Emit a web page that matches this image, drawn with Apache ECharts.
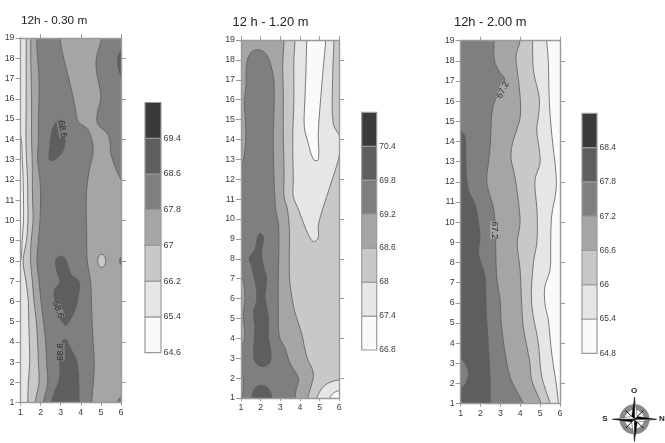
<!DOCTYPE html>
<html><head><meta charset="utf-8">
<style>html,body{margin:0;padding:0;background:#fff}#c{width:665px;height:443px;filter:blur(0.35px)}</style>
<script src="https://cdn.jsdelivr.net/npm/echarts@6/dist/echarts.min.js"></script>
</head><body><div id="c"></div>
<script>
// Shade steps, lowest band (0) to highest band (6)
const ramp=['#fafafa','#e6e6e6','#c8c8c8','#a5a5a5','#7f7f7f','#5e5e5e','#3a3a3a'];
const xTicks=[1,2,3,4,5,6];
const yTicks=[1,2,3,4,5,6,7,8,9,10,11,12,13,14,15,16,17,18,19];
const legend1=['64.6','65.4','66.2','67','67.8','68.6','69.4',''];
const legend2=['66.8','67.4','68','68.6','69.2','69.8','70.4',''];
const legend3=['64.8','65.4','66','66.6','67.2','67.8','68.4',''];

// ---- 12h - 0.30 m : isolines as [x,y]
const a1W=[[0.7,14.6],[1,14.2],[1.09,13],[1.13,12],[1.15,11],[1.15,10],[1.08,9],[1,8],[0.7,7.6]];
const a1A=[[1.28,19],[1.28,16],[1.27,14],[1.3,13],[1.35,12],[1.36,11],[1.37,10],[1.3,9],[1.13,8],[1.27,7],[1.39,6],[1.41,5],[1.44,4],[1.46,3],[1.39,2],[1.36,1]];
const a1B=[[1.51,19],[1.51,18],[1.53,17],[1.55,16],[1.55,15],[1.55,14],[1.58,13],[1.59,12],[1.6,11],[1.63,10],[1.53,9],[1.5,8],[1.59,7],[1.67,6],[1.79,5],[1.85,4],[1.89,3],[1.92,2],[1.72,1]];
const a1C=[[1.8,19],[1.85,18],[1.92,17],[1.92,16],[1.89,15],[1.89,14],[1.85,13],[1.97,12],[2,11],[1.97,10],[1.89,9],[1.82,8],[1.92,7],[2.02,6],[2.14,5],[2.25,4],[2.3,3],[2.35,2],[2.14,1]];
const a1F=[[2.96,19],[3.13,18.08],[3.46,16.76],[3.71,15.61],[3.87,14.87],[4.37,14.46],[4.62,13.47],[4.42,12.49],[4.29,11.5],[4.27,10.5],[4.29,9.52],[4.32,8.04],[4.49,6.97],[4.54,5.57],[4.62,3.93],[4.67,2.94],[4.62,1.95],[4.54,1]];
const a1E=[[5.04,19.6],[5.04,19],[4.79,18.08],[4.77,17.42],[5,16.1],[4.82,15.28],[4.84,14.76],[5.37,14.21],[5.53,13.14],[6,12],[6.5,11.2],[8,11],[8,19.6]];
const a1I1=[[2.71,14.76],[2.96,14.95],[3.13,14.38],[3.21,13.8],[3.04,13.31],[2.63,12.95],[2.43,13.01],[2.46,13.64],[2.54,14.3]];
const a1I2=[[2.76,8.04],[2.96,8.24],[3.21,8.12],[3.38,7.71],[3.54,7.3],[3.92,6.97],[3.87,6.23],[3.71,5.57],[3.29,4.83],[3.13,4.91],[2.88,5.41],[2.71,6.07],[2.68,6.56],[2.96,6.97],[2.79,7.55]];
const a1I3=[[2.45,0.6],[2.52,1],[2.72,1.6],[2.93,2.15],[2.96,3.1],[2.93,3.5],[3.09,4],[3.13,4.1],[3.29,4.1],[3.38,3.9],[3.82,2.95],[3.92,1],[3.95,0.6]];
const a1I4=[[4.84,8],[4.9,8.25],[5.04,8.32],[5.18,8.25],[5.24,8],[5.18,7.75],[5.04,7.68],[4.9,7.75]];
const a1I5=[[6.3,18.8],[6,18.4],[5.83,17.9],[6,17.1],[6.3,16.8]];
const a1I6=[[6.2,8.3],[5.97,8.15],[5.97,7.85],[6.2,7.7]];
const a1I7=[[5.6,0.7],[5.78,1],[6,1.3],[6.3,1.5],[6.3,0.7]];
const labels1=[[3.08,14.5,-80,'68.6',4],[2.87,5.6,-70,'68.6',4],[2.98,3.5,90,'68.6',4]];

// ---- 12 h - 1.20 m
const b1L=[[3.19,19],[3.12,17.66],[3.15,16.49],[3.15,14.31],[3.19,12.3],[3.19,11.13],[3.36,10.49],[3.46,9.48],[3.46,8.47],[3.46,7.13],[3.58,6.12],[3.75,5.28],[4.08,4.27],[4.34,3.09],[4.68,2.25],[4.56,1.57],[4.39,1]];
const b1Big=[[0.7,11.9],[1,12.47],[1.2,13.47],[1.25,14.31],[1.2,15.31],[1.17,15.98],[1.25,16.65],[1.29,17.83],[1.54,18.41],[1.97,18.5],[2.31,18.25],[2.56,17.58],[2.68,16.82],[2.68,15.48],[2.64,13.97],[2.68,11.96],[2.73,10.96],[2.76,10.49],[2.9,9.82],[2.93,8.81],[2.9,7.13],[2.9,5.44],[2.95,4.1],[3.24,3.51],[3.49,2.75],[3.92,1.99],[3.8,1.4],[3.75,1],[3.72,0.6],[-1,0.6],[-1,11]];
const b1Side1=[[0.7,7.3],[1,7.04],[1.12,6.88],[1.2,6.03],[1.12,5.11],[1.19,4.1],[1,3.59],[0.7,3.3]];
const b1Side2=[[0.7,2.6],[1,2.36],[1.12,1.91],[1.07,1],[1.05,0.6],[0.7,0.6]];
const b1Dark1=[[1.97,9.28],[2.14,9.06],[2.05,8.31],[2.14,7.63],[2.31,6.96],[2.22,6.12],[2.39,5.11],[2.39,4.1],[2.53,3.26],[2.44,2.75],[2.05,2.58],[1.71,2.84],[1.63,3.26],[1.71,4.6],[1.63,5.28],[1.8,5.95],[1.76,6.62],[1.54,7.63],[1.42,8.05],[1.71,8.47],[1.83,9.06]];
const b1Dark2=[[1.5,0.6],[1.54,1],[1.71,1.49],[2.05,1.64],[2.39,1.49],[2.59,1],[2.65,0.6]];
const b1Light=[[3.75,19.6],[3.75,19],[3.69,18],[3.69,15.98],[3.63,13.97],[3.66,11.96],[3.66,11.13],[3.92,10.49],[4.17,9.82],[4.42,9.23],[4.68,8.86],[4.93,9.06],[4.93,9.65],[5.15,10.49],[5.36,11.13],[5.69,12.13],[5.95,12.97],[6.07,13.64],[6.07,14.06],[5.69,14.81],[5.66,17],[5.73,19],[5.73,19.6]];
const b1White=[[4.34,19.6],[4.34,19],[4.31,17.66],[4.25,15.98],[4.22,14.64],[4.42,13.81],[4.68,13],[4.93,12.97],[4.93,14.31],[5.02,15.65],[5.19,17.66],[5.31,19],[5.31,19.6]];
const b1Arc1=[[4.8,0.6],[4.85,1],[5.19,1.57],[5.61,1.82],[6,1.91],[6.5,2],[6.5,0.6]];
const b1Arc2=[[5.5,0.6],[5.53,1],[5.69,1.24],[6,1.37],[6.5,1.4],[6.5,0.6]];

// ---- 12h - 2.00 m
const c1L0=[[0.7,14.9],[1,14.53],[1.22,14.23],[1.27,12.74],[1.39,11.58],[1.72,10.92],[1.89,10.01],[1.97,9.13],[1.89,8.47],[2.22,7.31],[2.28,5.65],[2.48,2.34],[2.48,1]];
const c1L1=[[2.68,19],[2.69,18.04],[2.9,17.54],[3.23,17.05],[3.06,16.55],[2.73,16.05],[2.56,15.31],[2.53,14.73],[2.48,13.74],[2.39,12.91],[2.31,12.16],[2.39,11.58],[2.64,10.75],[2.73,10.01],[2.76,8.96],[2.81,7.31],[2.98,6.15],[3.06,4.82],[3.48,2.34],[4.15,1]];
const c1L2=[[3.99,19],[3.79,18.29],[3.82,17.71],[3.95,16.72],[4.02,15.56],[3.95,14.98],[3.65,14.07],[3.53,13.24],[3.73,12.25],[3.9,11.09],[3.99,9.96],[3.85,8.96],[3.99,7.64],[4.07,5.98],[4.15,4.82],[4.49,3],[4.57,2.18],[5.04,1]];
const c1L3=[[4.62,19],[4.66,17.54],[4.96,16.14],[4.91,15.23],[4.83,14.56],[4.96,13.57],[4.99,12.91],[4.74,12.08],[4.83,10.75],[4.86,10.01],[4.83,8.96],[4.66,7.97],[4.57,5.98],[4.91,4],[5.08,2.34],[5.5,1]];
const c1L4=[[5.33,19],[5.41,18.04],[5.46,16.05],[5.58,14.4],[5.8,12.41],[5.8,11.58],[5.58,10.3],[5.53,8.96],[5.5,7.64],[5.24,6.81],[5.24,5.98],[5.41,5.16],[5.58,3.5],[5.83,1.84],[5.92,1]];
const c1Side=[[0.7,3.6],[1,3.28],[1.22,3],[1.39,2.51],[1.22,1.93],[1,1.79],[0.7,1.5]];
const labels3=[[3.12,16.55,65,'67.2',3],[2.72,9.6,-90,'67.2',3]];

// Closing helper: area to the left of an isoline running top to bottom
const leftOf=l=>[[l[0][0],19.6],...l,[l[l.length-1][0],0.6],[-1,0.6],[-1,19.6]];

const panels=[
 {base:3,layers:[[a1E,4],[leftOf(a1F),4],[leftOf(a1C),3],[leftOf(a1B),2],[leftOf(a1A),1],[a1W,0],[a1I1,5],[a1I2,5],[a1I3,5],[a1I4,2],[a1I5,5],[a1I6,5],[a1I7,4]],labels:labels1,legend:legend1,legendSize:9,
  title:'12h - 0.30 m',titleX:21,titleY:21,titleSize:11.8,g:[20.5,38,121,402.7],l:[145,102.5,161,352.7],topT:[2,4,6]},
 {base:2,layers:[[leftOf(b1L),3],[b1Big,4],[b1Side1,3],[b1Side2,3],[b1Dark1,5],[b1Dark2,5],[b1Light,1],[b1White,0],[b1Arc1,1],[b1Arc2,0]],labels:[],legend:legend2,legendSize:8.5,
  title:'12 h - 1.20 m',titleX:232.5,titleY:22,titleSize:12.9,g:[241,40,339.3,398],l:[361.7,112.3,376.7,350],topT:[1,2,3,4,5,6]},
 {base:0,layers:[[leftOf(c1L4),1],[leftOf(c1L3),2],[leftOf(c1L2),3],[leftOf(c1L1),4],[[...c1L0,[2.45,0.6],[-1,0.6],[-1,14.9]],5],[c1Side,4]],labels:labels3,legend:legend3,legendSize:8.5,
  title:'12h - 2.00 m',titleX:454,titleY:22,titleSize:12.9,g:[460.7,40.7,560,403.7],l:[582,113.3,597,353.3],topT:[2,4,6]}
];

const W=665,H=443,font='"Liberation Sans",Arial,sans-serif';
const axisCol='#9a9a9a',lineCol='#5c5c5c',txt='#3c3c3c';
const grids=[],xAxes=[],yAxes=[],series=[],titles=[];
panels.forEach(p=>{
  titles.push({text:p.title,left:p.titleX-5,top:p.titleY-5-p.titleSize/2,textStyle:{fontFamily:font,fontWeight:'normal',fontSize:p.titleSize,color:'#222'}});
  const gi=grids.length;
  grids.push({left:p.g[0],top:p.g[1],width:p.g[2]-p.g[0],height:p.g[3]-p.g[1],show:true,backgroundColor:ramp[p.base],borderWidth:0});
  const line={show:true,onZero:false,lineStyle:{color:axisCol,width:1.4}};
  const xi=xAxes.length,yi=yAxes.length;
  xAxes.push({gridIndex:gi,type:'value',min:1,max:6,interval:1,position:'bottom',z:5,axisLine:line,splitLine:{show:false},
    axisTick:{show:true,length:3,lineStyle:{color:axisCol}},axisLabel:{show:true,margin:5,fontSize:8.8,fontFamily:font,color:txt,customValues:xTicks,showMinLabel:true,showMaxLabel:true}});
  xAxes.push({gridIndex:gi,type:'value',min:1,max:6,interval:1,position:'top',z:5,axisLine:line,splitLine:{show:false},
    axisTick:{show:true,length:4,customValues:p.topT,lineStyle:{color:axisCol}},axisLabel:{show:false}});
  yAxes.push({gridIndex:gi,type:'value',min:1,max:19,interval:1,position:'left',z:5,axisLine:line,splitLine:{show:false},
    axisTick:{show:true,length:5,lineStyle:{color:axisCol}},axisLabel:{show:true,margin:6,fontSize:8.8,fontFamily:font,color:txt,customValues:yTicks,showMinLabel:true,showMaxLabel:true}});
  yAxes.push({gridIndex:gi,type:'value',min:1,max:19,interval:1,position:'right',z:5,axisLine:line,splitLine:{show:false},
    axisTick:{show:true,length:5,customValues:[2,4,6,8,10,12,14,16,18],lineStyle:{color:axisCol}},axisLabel:{show:false}});
  series.push({type:'custom',xAxisIndex:xi,yAxisIndex:yi,clip:true,z:2,silent:true,data:p.layers.map((_,i)=>[i]),
    renderItem:(params,api)=>{
      const L=p.layers[params.dataIndex];
      return {type:'polygon',shape:{points:L[0].map(q=>api.coord(q)),smooth:0.35},style:{fill:ramp[L[1]],stroke:lineCol,lineWidth:0.8}};
    }});
  if(p.labels.length) series.push({type:'custom',xAxisIndex:xi,yAxisIndex:yi,clip:false,z:3,silent:true,data:p.labels.map((_,i)=>[i]),
    renderItem:(params,api)=>{
      const t=p.labels[params.dataIndex],c=api.coord([t[0],t[1]]);
      return {type:'text',x:c[0],y:c[1],rotation:t[2]*Math.PI/180,style:{text:t[3],fontSize:9,fontFamily:font,fill:'#2a2a2a',backgroundColor:ramp[t[4]],align:'center',verticalAlign:'middle'}};
    }});
  // colour scale
  const gl=grids.length;
  grids.push({left:p.l[0],top:p.l[1],width:p.l[2]-p.l[0],height:p.l[3]-p.l[1],show:false});
  const xl=xAxes.length,yl=yAxes.length;
  xAxes.push({gridIndex:gl,type:'value',min:0,max:1,show:false});
  yAxes.push({gridIndex:gl,type:'category',boundaryGap:false,position:'right',data:p.legend,
    axisLine:{show:false},axisTick:{show:false},splitLine:{show:false},
    axisLabel:{show:true,interval:0,margin:2.5,fontSize:p.legendSize,fontFamily:font,color:txt}});
  series.push({type:'custom',xAxisIndex:xl,yAxisIndex:yl,clip:false,z:2,silent:true,data:ramp.map((_,i)=>[i]),
    renderItem:(params,api)=>{
      const i=params.dataIndex,a=api.coord([0,i]),b=api.coord([1,i+1]);
      return {type:'rect',shape:{x:a[0],y:b[1],width:b[0]-a[0],height:a[1]-b[1]},style:{fill:ramp[i],stroke:'#9a9a9a',lineWidth:1.2}};
    }});
});

// compass rose
const cx=634.5,cy=419.3,R=22;
const tri=(ax,ay,bx,by,f)=>({type:'polygon',shape:{points:[[cx,cy],[cx+ax,cy+ay],[cx+bx,cy+by]]},style:{fill:f,stroke:'#111',lineWidth:0.4},z:20});
const s=2.8;
const rose=[
 {type:'ring',shape:{cx,cy,r:15,r0:9.5},style:{fill:'#8a8a8a'},z:19},
 tri(0,-R,s,-s,'#fff'),tri(0,-R,-s,-s,'#000'),tri(0,R,-s,s,'#fff'),tri(0,R,s,s,'#000'),
 tri(R,0,s,s,'#fff'),tri(R,0,s,-s,'#000'),tri(-R,0,-s,-s,'#fff'),tri(-R,0,-s,s,'#000'),
 {type:'line',shape:{x1:cx-9,y1:cy-9,x2:cx-3,y2:cy-3},style:{stroke:'#111',lineWidth:1},z:20},
 {type:'line',shape:{x1:cx+9,y1:cy-9,x2:cx+3,y2:cy-3},style:{stroke:'#111',lineWidth:1},z:20},
 {type:'line',shape:{x1:cx-9,y1:cy+9,x2:cx-3,y2:cy+3},style:{stroke:'#111',lineWidth:1},z:20},
 {type:'line',shape:{x1:cx+9,y1:cy+9,x2:cx+3,y2:cy+3},style:{stroke:'#111',lineWidth:1},z:20},
 {type:'text',x:634,y:391,style:{text:'O',font:'bold 8px '+font,fill:'#222',align:'center',verticalAlign:'middle'},z:20},
 {type:'text',x:605,y:419,style:{text:'S',font:'bold 8px '+font,fill:'#222',align:'center',verticalAlign:'middle'},z:20},
 {type:'text',x:662,y:419,style:{text:'N',font:'bold 8px '+font,fill:'#222',align:'center',verticalAlign:'middle'},z:20}
];

const chart=echarts.init(document.getElementById('c'),null,{renderer:'canvas',width:W,height:H});
chart.setOption({animation:false,backgroundColor:'#fff',title:titles,grid:grids,xAxis:xAxes,yAxis:yAxes,series,graphic:{elements:rose},tooltip:{show:false}});
</script></body></html>
